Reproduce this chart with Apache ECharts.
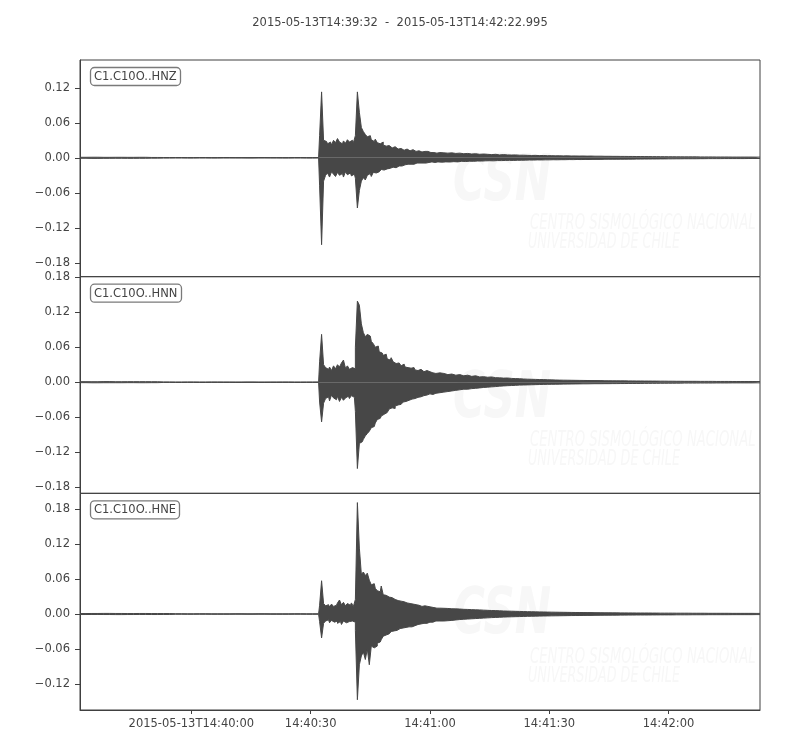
<!DOCTYPE html>
<html><head><meta charset="utf-8">
<script src="https://cdn.jsdelivr.net/npm/echarts@6/dist/echarts.min.js"></script>
<style>html,body{margin:0;padding:0;background:#fff}#c{width:800px;height:750px}</style>
</head><body><div id="c"></div>
<script>
// ---------------- DATA ----------------
const plotTitle = '2015-05-13T14:39:32  -  2015-05-13T14:42:22.995';
const traceNames = ['C1.C10O..HNZ', 'C1.C10O..HNN', 'C1.C10O..HNE'];
const durationSec = 170.995; // seconds after 14:39:32
const xTickSeconds = [28, 58, 88, 118, 148];
const xTickLabels = ['2015-05-13T14:40:00', '14:40:30', '14:41:00', '14:41:30', '14:42:00'];

const hnzYTicks = [-0.18, -0.12, -0.06, 0, 0.06, 0.12];
const hnnYTicks = [-0.18, -0.12, -0.06, 0, 0.06, 0.12, 0.18];
const hneYTicks = [-0.12, -0.06, 0, 0.06, 0.12, 0.18];
const hnzRange = [-0.2038, 0.1677];
const hnnRange = [-0.1905, 0.1809];
const hneRange = [-0.1646, 0.2069];

// time of each min/max bin (seconds after start)
const binTimes = [
  0,3,6,9,12,15,18,21,24,27,30,33,36,39,42,45,48,51,54,57,60,
  60.5,61,61.5,62,62.5,63,63.5,64,64.5,65,65.5,66,66.5,67,67.5,68,68.5,69,69.5,70,
  70.5,71,71.5,72,72.5,73,73.5,74,74.5,75,75.5,76,76.5,77,77.5,78,78.5,79,79.5,80,
  80.5,81,81.5,82,82.5,83,83.5,84,84.5,85,85.5,86,86.5,87,87.5,88,88.5,89,89.5,90,
  91,92,93,94,95,96,97,98,99,100,101,102,103,104,105,106,107,108,109,110,
  111,112,113,114,115,116,117,118,119,120,121,122,123,124,125,126,127,128,129,130,
  132,134,136,138,140,142,144,146,148,150,152,154,156,158,160,162,164,166,168,170,171
];

// HNZ envelope (max / min per bin)
const hnzMax = [
  0.0009,0.0010,0.0008,0.0009,0.0008,0.0009,0.0006,0.0005,0.0005,0.0004,0.0005,0.0004,0.0005,0.0004,0.0004,0.0005,0.0004,0.0004,0.0005,0.0004,0.0005,
  0.038,0.113,0.030,0.028,0.024,0.027,0.022,0.030,0.026,0.033,0.027,0.024,0.029,0.025,0.031,0.027,0.030,0.026,0.038,0.113,
  0.078,0.052,0.045,0.040,0.036,0.038,0.031,0.028,0.032,0.026,0.024,0.027,0.022,0.020,0.021,0.018,0.017,0.019,0.016,0.015,
  0.016,0.014,0.013,0.015,0.013,0.012,0.014,0.012,0.011,0.012,0.011,0.010,0.011,0.010,0.011,0.009,0.010,0.009,0.008,0.009,
  0.0085,0.008,0.0085,0.0075,0.008,0.007,0.0075,0.0065,0.007,0.006,0.0065,0.006,0.0055,0.006,0.005,0.0055,0.005,0.0048,0.005,0.0045,
  0.0045,0.0042,0.004,0.0042,0.0038,0.004,0.0036,0.0037,0.0034,0.0035,0.0033,0.0034,0.0031,0.0032,0.003,0.0031,0.0029,0.003,0.0028,0.0028,
  0.0026,0.0025,0.0024,0.0023,0.0022,0.0021,0.002,0.0019,0.0018,0.0017,0.0016,0.0016,0.0015,0.0015,0.0014,0.0014,0.0013,0.0013,0.0013,0.0012,0.0012
];
const hnzMin = [
  -0.0008,-0.0010,-0.0009,-0.0008,-0.0009,-0.0008,-0.0006,-0.0005,-0.0004,-0.0005,-0.0004,-0.0005,-0.0004,-0.0004,-0.0005,-0.0004,-0.0004,-0.0005,-0.0004,-0.0005,-0.0004,
  -0.048,-0.149,-0.040,-0.030,-0.026,-0.033,-0.024,-0.028,-0.032,-0.025,-0.030,-0.027,-0.033,-0.024,-0.029,-0.026,-0.031,-0.028,-0.035,-0.086,
  -0.056,-0.040,-0.034,-0.038,-0.030,-0.027,-0.032,-0.025,-0.026,-0.024,-0.022,-0.020,-0.021,-0.019,-0.017,-0.018,-0.016,-0.015,-0.017,-0.014,
  -0.013,-0.014,-0.012,-0.012,-0.011,-0.011,-0.010,-0.011,-0.009,-0.010,-0.009,-0.009,-0.008,-0.009,-0.008,-0.008,-0.007,-0.008,-0.007,-0.007,
  -0.0075,-0.007,-0.0072,-0.0066,-0.007,-0.006,-0.0064,-0.0058,-0.006,-0.0055,-0.0056,-0.0052,-0.005,-0.0052,-0.0047,-0.0048,-0.0045,-0.0044,-0.0045,-0.0042,
  -0.0042,-0.004,-0.0038,-0.0039,-0.0036,-0.0037,-0.0035,-0.0035,-0.0033,-0.0034,-0.0032,-0.0032,-0.003,-0.0031,-0.0029,-0.003,-0.0028,-0.0029,-0.0027,-0.0027,
  -0.0025,-0.0025,-0.0024,-0.0023,-0.0022,-0.0021,-0.002,-0.0019,-0.0018,-0.0017,-0.0016,-0.0016,-0.0015,-0.0014,-0.0014,-0.0013,-0.0013,-0.0013,-0.0012,-0.0012,-0.0012
];

// HNN envelope
const hnnMax = [
  0.0009,0.0008,0.0010,0.0008,0.0009,0.0009,0.0008,0.0005,0.0004,0.0005,0.0004,0.0005,0.0004,0.0004,0.0005,0.0004,0.0004,0.0005,0.0004,0.0004,0.0005,
  0.035,0.082,0.030,0.025,0.022,0.026,0.020,0.028,0.023,0.030,0.026,0.033,0.038,0.024,0.028,0.022,0.025,0.023,0.060,0.139,
  0.132,0.100,0.085,0.078,0.082,0.079,0.070,0.066,0.060,0.062,0.052,0.050,0.046,0.048,0.040,0.038,0.042,0.035,0.032,0.033,
  0.030,0.028,0.031,0.026,0.025,0.024,0.022,0.025,0.021,0.020,0.022,0.019,0.018,0.020,0.017,0.018,0.016,0.017,0.015,0.016,
  0.015,0.013,0.014,0.012,0.013,0.011,0.012,0.010,0.011,0.009,0.0095,0.0085,0.009,0.0078,0.0075,0.007,0.0072,0.0065,0.0062,0.006,
  0.0055,0.0052,0.005,0.0048,0.0046,0.0045,0.0042,0.004,0.0038,0.0036,0.0035,0.0034,0.0033,0.0032,0.0031,0.003,0.0029,0.0028,0.0028,0.0027,
  0.0025,0.0024,0.0023,0.0022,0.0021,0.002,0.0019,0.0018,0.0017,0.0016,0.0015,0.0015,0.0014,0.0014,0.0013,0.0013,0.0012,0.0012,0.0012,0.0011,0.0011
];
const hnnMin = [
  -0.0008,-0.0010,-0.0009,-0.0009,-0.0008,-0.0009,-0.0008,-0.0004,-0.0005,-0.0004,-0.0005,-0.0004,-0.0004,-0.0005,-0.0004,-0.0005,-0.0004,-0.0004,-0.0005,-0.0004,-0.0004,
  -0.034,-0.068,-0.036,-0.028,-0.025,-0.032,-0.022,-0.027,-0.030,-0.024,-0.033,-0.026,-0.031,-0.027,-0.024,-0.028,-0.023,-0.026,-0.050,-0.148,
  -0.105,-0.102,-0.098,-0.092,-0.088,-0.084,-0.078,-0.076,-0.070,-0.064,-0.062,-0.058,-0.055,-0.052,-0.052,-0.046,-0.044,-0.045,-0.041,-0.039,
  -0.038,-0.036,-0.034,-0.033,-0.031,-0.032,-0.029,-0.028,-0.027,-0.026,-0.025,-0.024,-0.023,-0.022,-0.022,-0.020,-0.021,-0.019,-0.019,-0.018,
  -0.017,-0.016,-0.015,-0.014,-0.013,-0.012,-0.012,-0.011,-0.0105,-0.0098,-0.009,-0.0085,-0.008,-0.0075,-0.0068,-0.0064,-0.006,-0.0057,-0.0054,-0.005,
  -0.0048,-0.0046,-0.0044,-0.0042,-0.004,-0.0038,-0.0037,-0.0036,-0.0035,-0.0034,-0.0033,-0.0032,-0.0031,-0.003,-0.0029,-0.0028,-0.0028,-0.0027,-0.0026,-0.0026,
  -0.0025,-0.0024,-0.0023,-0.0022,-0.0021,-0.002,-0.0019,-0.0018,-0.0017,-0.0016,-0.0015,-0.0015,-0.0014,-0.0014,-0.0013,-0.0013,-0.0012,-0.0012,-0.0012,-0.0011,-0.0011
];

// HNE envelope
const hneMax = [
  0.0008,0.0009,0.0010,0.0009,0.0008,0.0009,0.0008,0.0008,0.0005,0.0004,0.0005,0.0004,0.0004,0.0005,0.0004,0.0005,0.0004,0.0004,0.0005,0.0004,0.0004,
  0.015,0.057,0.018,0.014,0.016,0.012,0.017,0.013,0.015,0.019,0.024,0.016,0.020,0.014,0.018,0.015,0.019,0.013,0.025,0.191,
  0.113,0.068,0.072,0.066,0.070,0.058,0.050,0.052,0.044,0.040,0.038,0.048,0.033,0.032,0.029,0.027,0.028,0.025,0.024,0.023,
  0.022,0.020,0.021,0.019,0.018,0.018,0.017,0.016,0.016,0.015,0.014,0.013,0.014,0.012,0.013,0.012,0.011,0.011,0.010,0.010,
  0.0098,0.0095,0.009,0.0088,0.0085,0.008,0.0078,0.0075,0.0072,0.007,0.0066,0.0063,0.006,0.0058,0.0055,0.0052,0.005,0.0048,0.0046,0.0044,
  0.0042,0.004,0.0039,0.0037,0.0036,0.0035,0.0033,0.0032,0.0031,0.003,0.0029,0.0028,0.0027,0.0026,0.0026,0.0025,0.0024,0.0024,0.0023,0.0022,
  0.0021,0.002,0.0019,0.0018,0.0017,0.0017,0.0016,0.0015,0.0015,0.0014,0.0014,0.0013,0.0013,0.0012,0.0012,0.0012,0.0011,0.0011,0.0011,0.001,0.001
];
const hneMin = [
  -0.0009,-0.0008,-0.0009,-0.0010,-0.0009,-0.0008,-0.0009,-0.0008,-0.0004,-0.0005,-0.0004,-0.0005,-0.0005,-0.0004,-0.0005,-0.0004,-0.0005,-0.0005,-0.0004,-0.0005,-0.0004,
  -0.013,-0.041,-0.016,-0.012,-0.010,-0.015,-0.011,-0.014,-0.012,-0.016,-0.013,-0.018,-0.012,-0.015,-0.013,-0.016,-0.012,-0.014,-0.028,-0.147,
  -0.087,-0.072,-0.065,-0.078,-0.060,-0.087,-0.055,-0.058,-0.055,-0.050,-0.048,-0.044,-0.038,-0.036,-0.034,-0.032,-0.030,-0.029,-0.028,-0.026,
  -0.025,-0.024,-0.023,-0.023,-0.022,-0.021,-0.022,-0.020,-0.019,-0.018,-0.017,-0.017,-0.016,-0.016,-0.015,-0.014,-0.014,-0.013,-0.012,-0.012,
  -0.012,-0.0115,-0.011,-0.0102,-0.0095,-0.009,-0.0086,-0.0082,-0.0078,-0.0074,-0.007,-0.0066,-0.0062,-0.0059,-0.0056,-0.0053,-0.005,-0.0048,-0.0046,-0.0044,
  -0.0042,-0.004,-0.0039,-0.0037,-0.0036,-0.0034,-0.0033,-0.0032,-0.0031,-0.003,-0.0029,-0.0028,-0.0027,-0.0026,-0.0026,-0.0025,-0.0024,-0.0024,-0.0023,-0.0022,
  -0.0021,-0.002,-0.0019,-0.0018,-0.0017,-0.0017,-0.0016,-0.0015,-0.0015,-0.0014,-0.0014,-0.0013,-0.0013,-0.0012,-0.0012,-0.0012,-0.0011,-0.0011,-0.0011,-0.001,-0.001
];

// ---------------- CHART ----------------
const FONT = '"DejaVu Sans", sans-serif';
const TXT = '#444444';
const FRAME = '#404040';
const WAVE = '#474747';

function pairs(times, vals) {
  return times.map((t, i) => [t, vals[i]]);
}
function fmtY(v) {
  return v.toFixed(2).replace('-', '\u2212');
}

const traces = [
  { max: hnzMax, min: hnzMin, ticks: hnzYTicks, range: hnzRange },
  { max: hnnMax, min: hnnMin, ticks: hnnYTicks, range: hnnRange },
  { max: hneMax, min: hneMin, ticks: hneYTicks, range: hneRange }
];

const gridLeft = 80, gridWidth = 680, gridTop0 = 60, gridH = 650 / 3;
const grids = [], xAxes = [], yAxes = [], series = [], titles = [], graphics = [];

titles.push({
  text: plotTitle, left: 'center', top: 12,
  textStyle: { fontFamily: FONT, fontSize: 11.5, fontWeight: 'normal', color: TXT }
});

traces.forEach((tr, i) => {
  const top = gridTop0 + i * gridH;
  const isLast = i === traces.length - 1;
  grids.push({ left: gridLeft, top: top, width: gridWidth, height: gridH,
    show: true, borderColor: FRAME, borderWidth: 1, backgroundColor: 'transparent' });
  xAxes.push({
    type: 'value', gridIndex: i, min: 0, max: durationSec,
    show: true,
    axisLine: { show: isLast, onZero: false, lineStyle: { color: FRAME, width: 1 } },
    axisTick: { show: isLast, inside: false, length: 4, customValues: xTickSeconds, lineStyle: { color: FRAME } },
    axisLabel: { show: isLast, margin: 8, customValues: xTickSeconds, color: TXT, fontFamily: FONT, fontSize: 11.5,
      formatter: v => { const k = xTickSeconds.indexOf(Math.round(v)); return k >= 0 ? xTickLabels[k] : ''; } },
    splitLine: { show: false }
  });
  yAxes.push({
    type: 'value', gridIndex: i, min: tr.range[0], max: tr.range[1],
    axisLine: { show: true, onZero: false, lineStyle: { color: FRAME, width: 1 } },
    axisTick: { show: true, inside: false, length: 5, customValues: tr.ticks, lineStyle: { color: FRAME } },
    axisLabel: { show: true, margin: 10, customValues: tr.ticks, color: TXT, fontFamily: FONT, fontSize: 11.5,
      formatter: v => fmtY(v) },
    splitLine: { show: false }
  });
  const common = { type: 'line', xAxisIndex: i, yAxisIndex: i, showSymbol: false, symbol: 'none', silent: true, z: 3, step: 'middle' };
  // upper envelope (per-bin maxima) filled to zero
  series.push(Object.assign({}, common, {
    data: pairs(binTimes, tr.max),
    lineStyle: { color: WAVE, width: 1 },
    areaStyle: { color: WAVE, opacity: 1, origin: 0 }
  }));
  // lower envelope (per-bin minima) filled to zero
  series.push(Object.assign({}, common, {
    data: pairs(binTimes, tr.min),
    lineStyle: { color: WAVE, width: 1 },
    areaStyle: { color: WAVE, opacity: 1, origin: 0 }
  }));
  titles.push({
    text: traceNames[i], left: 90, top: top + 7,
    padding: [4, 4, 3, 4], borderWidth: 1.3, borderColor: '#7a7a7a', borderRadius: 4, backgroundColor: '#ffffff',
    textStyle: { fontFamily: FONT, fontSize: 11.5, fontWeight: 'normal', color: TXT }
  });
  // faint institutional watermark
  graphics.push(
    { type: 'text', x: 453, y: top + 123.5, scaleX: 0.68, z: 1, silent: true,
      style: { text: 'CSN', font: 'italic bold 64px "DejaVu Sans"', fill: '#f7f7f7', verticalAlign: 'middle' } },
    { type: 'text', x: 530, y: top + 163.5, scaleX: 0.6, z: 1, silent: true,
      style: { text: 'CENTRO SISMOLÓGICO NACIONAL', font: 'italic 22px "DejaVu Sans"', fill: '#f7f7f7', verticalAlign: 'middle' } },
    { type: 'text', x: 528, y: top + 182.5, scaleX: 0.58, z: 1, silent: true,
      style: { text: 'UNIVERSIDAD DE CHILE', font: 'italic 22px "DejaVu Sans"', fill: '#f7f7f7', verticalAlign: 'middle' } }
  );
});

const chart = echarts.init(document.getElementById('c'), null, { renderer: 'canvas' });
chart.setOption({
  animation: false,
  backgroundColor: '#ffffff',
  textStyle: { fontFamily: FONT },
  title: titles,
  grid: grids,
  xAxis: xAxes,
  yAxis: yAxes,
  series: series,
  graphic: { elements: graphics }
});
</script>
</body></html>
